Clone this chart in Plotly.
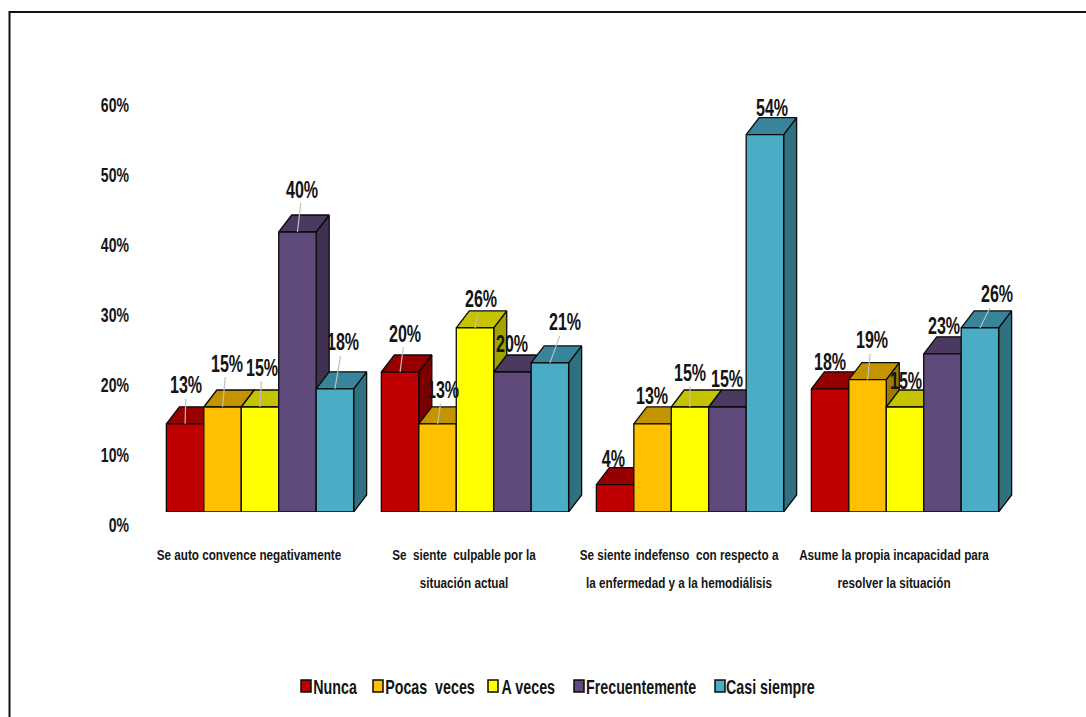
import plotly.graph_objects as go

# ---------- data ----------
categories = [
    "Se auto convence negativamente",
    "Se  siente  culpable por la<br>situación actual",
    "Se siente indefenso  con respecto a<br>la enfermedad y a la hemodiálisis",
    "Asume la propia incapacidad para<br>resolver la situación",
]
series_names = ["Nunca", "Pocas  veces", "A veces", "Frecuentemente", "Casi siempre"]
nunca = [12.6, 20.0, 3.9, 17.6]
pocas_veces = [15.0, 12.6, 12.6, 18.9]
a_veces = [15.0, 26.3, 15.0, 15.0]
frecuentemente = [40.0, 20.0, 15.0, 22.6]
casi_siempre = [17.6, 21.3, 53.9, 26.3]
y_ticks = [0, 10, 20, 30, 40, 50, 60]
y_tick_labels = ["0%", "10%", "20%", "30%", "40%", "50%", "60%"]

# ---------- styles ----------
series = [nunca, pocas_veces, a_veces, frecuentemente, casi_siempre]
front = ["#C00000", "#FFC000", "#FFFF00", "#604A7B", "#4BACC6"]
top = ["#960000", "#C49300", "#C4C400", "#4A3A60", "#37849B"]
side = ["#7A0000", "#A37A00", "#A3A300", "#3F3151", "#31707F"]
FONT = "Liberation Sans"
INK = "#151515"
W, H = 1086, 717
PX_X = 215.0          # px per category
PX_Y = 7.0            # px per percent
X0 = 260.0            # px of first category centre
DX, DY = 13 / PX_X, 17 / PX_Y
BAR_W = 0.871 / 5
LEFT, RIGHT = 140, 1040

# label offsets (px from the bar's front-top centre) and whether a leader is shown
offsets = [
    [(1, -39, 1), (4, -44, 1), (2, -40, 1), (5, -43, 1), (8, -47, 1)],
    [(5, -39, 1), (5, -34, 1), (6, -29, 1), (0, -29, 0), (15, -41, 1)],
    [(-2, -26, 0), (-1, -28, 0), (0, -35, 1), (0, -29, 0), (7, -27, 0)],
    [(0, -27, 0), (4, -40, 1), (1, -27, 0), (2, -28, 0), (17, -34, 1)],
]

def fnt(size):
    return dict(family=FONT, size=size, color=INK, weight="bold")

fig = go.Figure()
fig.add_trace(go.Scatter(x=[0], y=[0], xaxis="x", yaxis="y", mode="markers",
                         marker=dict(opacity=0), showlegend=False, hoverinfo="skip"))

annotations = []
for s, vals in enumerate(series):
    xs = [c - 0.871 / 2 + BAR_W * (s + 0.5) for c in range(len(categories))]
    side_x, side_y, top_x, top_y = [], [], [], []
    for x, v in zip(xs, vals):
        r, l = x + BAR_W / 2, x - BAR_W / 2
        side_x += [r, r + DX, r + DX, r, r, None]
        side_y += [0, DY, v + DY, v, 0, None]
        top_x += [l, l + DX, r + DX, r, l, None]
        top_y += [v, v + DY, v + DY, v, v, None]
    line = dict(color="#0a0a0a", width=1.3)
    fig.add_trace(go.Scatter(x=side_x, y=side_y, xaxis="x", yaxis="y2", mode="lines", fill="toself",
                             fillcolor=side[s], line=line, zorder=2 * s + 1, showlegend=False,
                             hoverinfo="skip"))
    fig.add_trace(go.Scatter(x=top_x, y=top_y, xaxis="x", yaxis="y2", mode="lines", fill="toself",
                             fillcolor=top[s], line=line, zorder=2 * s + 1, showlegend=False,
                             hoverinfo="skip"))
    fig.add_trace(go.Bar(x=xs, y=vals, width=BAR_W, xaxis="x", yaxis="y2", name=series_names[s],
                         marker=dict(color=front[s], line=dict(color="#0a0a0a", width=1.3)),
                         zorder=2 * s + 2, showlegend=False))
    for c, (x, v) in enumerate(zip(xs, vals)):
        ax, ay, lead = offsets[c][s]
        annotations.append(dict(
            x=x, y=v, xref="x", yref="y2", text=f"{round(v)}%", showarrow=True, arrowhead=0,
            arrowwidth=1.2, arrowcolor="#BFBFBF" if lead else "rgba(0,0,0,0)", ax=ax, ay=ay,
            standoff=0, font=fnt(24), borderpad=0,
        ))

legend_x = [301, 373, 488, 574, 715]
legend_text_centre = [335.5, 430, 528.5, 641, 770.5]
shapes = []
for name, lx, cx, col in zip(series_names, legend_x, legend_text_centre, front):
    shapes.append(dict(type="rect", xref="paper", yref="paper",
                       x0=lx / W, x1=(lx + 10) / W, y0=1 - 692 / H, y1=1 - 680 / H,
                       fillcolor=col, line=dict(color="#0a0a0a", width=1.5)))
    annotations.append(dict(xref="paper", yref="paper", x=cx / W, y=1 - 686 / H,
                            xanchor="center", yanchor="middle", showarrow=False, text=name,
                            font=fnt(21)))

shapes.append(dict(type="path", xref="paper", yref="paper", line=dict(color="#111", width=2),
                   path=f"M {9.5/W} 0 L {9.5/W} {1-12/H} L 1 {1-12/H}"))

ticktext = ["<span style='font-size:15px'>" + "</span><br><span style='font-size:15px'>".join(c.split("<br>")) + "</span>"
            for c in categories]

fig.update_layout(
    width=W, height=H, margin=dict(l=0, r=0, t=0, b=0, autoexpand=False), paper_bgcolor="white",
    plot_bgcolor="white",
    barmode="overlay", showlegend=False, annotations=annotations, shapes=shapes,
    xaxis=dict(domain=[LEFT / W, RIGHT / W], range=[(LEFT - X0) / PX_X, (RIGHT - X0) / PX_X],
               anchor="y2", tickmode="array", tickvals=[i - 11 / PX_X for i in range(4)],
               ticktext=ticktext, showgrid=False, zeroline=False, showline=False, ticks="",
               tickangle=0, ticklabelstandoff=25, tickfont=fnt(21.6)),
    yaxis=dict(domain=[1 - 525 / H, 1 - 105 / H], range=[0, 60], tickmode="array", tickvals=y_ticks,
               ticktext=y_tick_labels, showgrid=False, zeroline=False, showline=False, ticks="",
               anchor="x", ticklabelstandoff=10, tickfont=fnt(21)),
    yaxis2=dict(domain=[1 - 512 / H, 1 - 92 / H], range=[0, 60], anchor="x", showticklabels=False,
                showgrid=False, zeroline=False, showline=False, ticks=""),
)

# The reference text is horizontally squeezed; no condensed face is installed, so narrow the real text.
SQUEEZE_JS = """
document.body.style.margin='0';document.body.style.overflow='hidden';
(function(){
  function factor(t){
    if(t.closest('.xtick'))return 0.78;
    if(t.closest('.ytick'))return 0.67;
    return parseFloat(t.style.fontSize)>=23?0.67:0.68;
  }
  function sq(){
    document.querySelectorAll('.xtick text,.ytick text,.annotation-text').forEach(function(t){
      if(t.getAttribute('data-sq'))return;
      var x=parseFloat(t.getAttribute('x'))||0,tr=t.getAttribute('transform')||'',k=factor(t);
      t.setAttribute('transform',tr+' translate('+x+',0) scale('+k+',1) translate('+(-x)+',0)');
      t.setAttribute('data-sq','1');
    });
  }
  var gd=document.querySelector('.js-plotly-plot');
  if(gd&&gd.on)gd.on('plotly_afterplot',sq);
  sq();
})();
"""
fig.write_html("out.html", config={"displayModeBar": False}, post_script=SQUEEZE_JS)
